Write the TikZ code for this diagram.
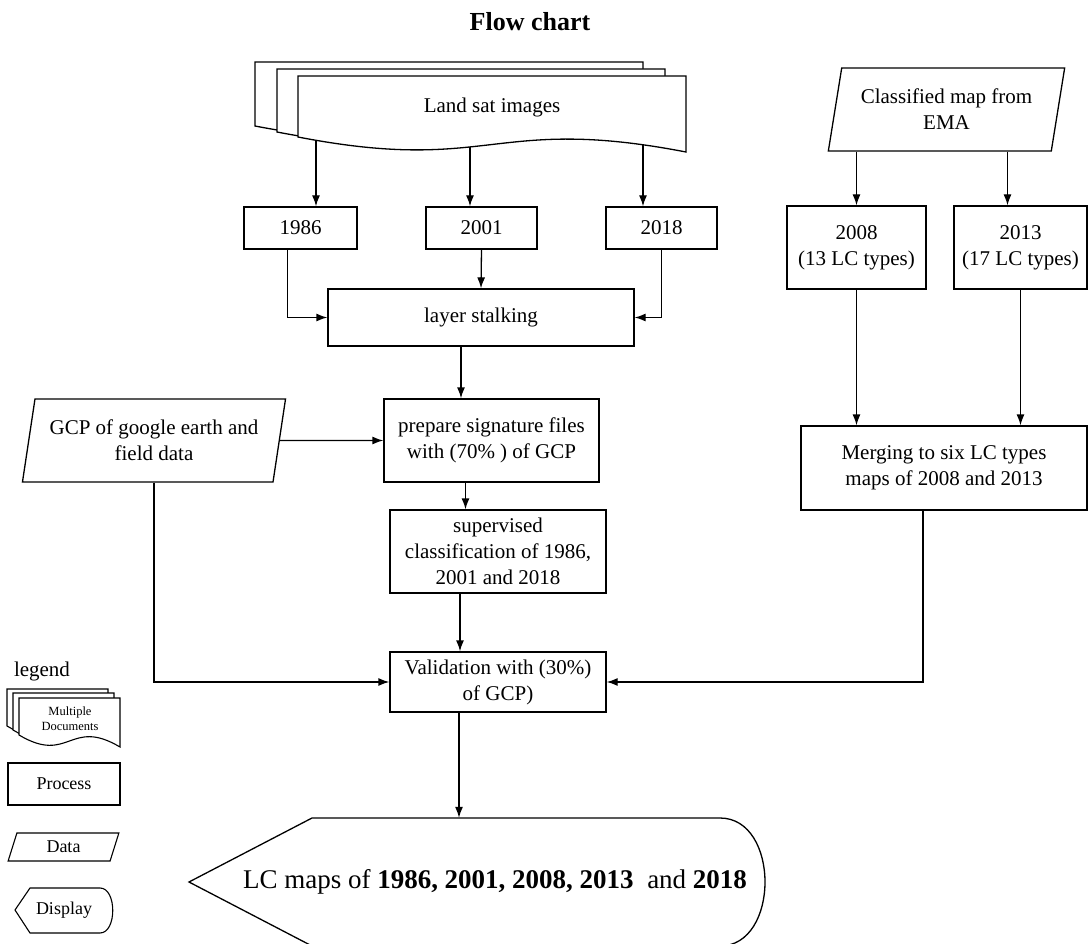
\documentclass[tikz,border=0pt]{standalone}
\usepackage{fontspec}
\setmainfont{Liberation Serif}
\usetikzlibrary{arrows.meta}
\usetikzlibrary{shapes.geometric}

% one sheet of a document symbol: x, y, width, left height, drop
\newcommand{\docsheet}[5]{%
  \draw[sheet] (#1,#2) -- ({#1+#3},#2) -- ({#1+#3},{#2+#4+#5})
    .. controls ({#1+#3/2},{#2+#4-1.5*#5}) and ({#1+#3/2},{#2+#4+2.5*#5}) .. (#1,{#2+#4}) -- cycle;}

\begin{document}
\begin{tikzpicture}[x=1pt,y=-1pt]
        \tikzset{box/.style = {shape=rectangle,draw,line width=1.3pt,align=center,inner sep=0pt,font=\fontsize{21}{26}\selectfont}}
        \tikzset{data/.style = {box,trapezium,trapezium left angle=75,trapezium right angle=105,trapezium stretches=true}}
        \tikzset{sheet/.style = {draw,fill=white,line width=1.3pt}}
        \tikzset{edge/.style = {->,> = {Latex[length=11pt,width=8pt]},line width=1.3pt}}
        \useasboundingbox (0,0) rectangle (1088,944);

        \node[font=\bfseries\fontsize{26}{30}\selectfont] (title) at (530,22) {Flow chart};

        % multiple documents
        \docsheet{255}{62}{388}{64}{15}
        \docsheet{277}{69}{388}{63}{15}
        \docsheet{298}{76}{388}{61}{15}
        \node[font=\fontsize{21}{26}\selectfont] (docs) at (492,107) {Land sat images};
        \coordinate (w1) at (316,140);
        \coordinate (w2) at (470,147);
        \coordinate (w3) at (643,145);

        \node[box,minimum width=113pt,minimum height=42pt] (y86) at (300.5,228) {1986};
        \node[box,minimum width=111pt,minimum height=42pt] (y01) at (481.5,228) {2001};
        \node[box,minimum width=111pt,minimum height=42pt] (y18) at (661.5,228) {2018};
        \node[box,minimum width=306pt,minimum height=57pt] (ls) at (481,317.5) {layer stalking};
        \node[data,minimum width=264pt,minimum height=83pt] (gcp) at (154,440.5) {GCP of google earth and\\field data};
        \node[box,minimum width=215pt,minimum height=83pt] (sig) at (491.5,440.5) {prepare signature files\\with (70\% ) of GCP};
        \node[box,minimum width=216pt,minimum height=83pt] (sup) at (498,551.5) {supervised\\classification of 1986,\\2001 and 2018};
        \node[box,minimum width=216pt,minimum height=60pt] (val) at (498,682) {Validation with (30\%)\\of GCP)};

        \node[data,minimum width=237pt,minimum height=83pt] (cls) at (946.5,109.5) {Classified map from\\EMA};
        \node[box,minimum width=139pt,minimum height=83pt] (b08) at (856.5,247.5) {2008\\(13 LC types)};
        \node[box,minimum width=133pt,minimum height=83pt] (b13) at (1020.5,247.5) {2013\\(17 LC types)};
        \node[box,minimum width=286pt,minimum height=84pt] (mrg) at (944,468) {Merging to six LC types\\maps of 2008 and 2013};

        % display
        \draw[sheet] (189,882) -- (312,818) -- (720,818) .. controls (780,818) and (780,946) .. (720,946) -- (312,946) -- cycle;
        \node[minimum height=128pt,inner sep=0pt,font=\fontsize{27}{32}\selectfont] (out) at (495,882) {LC maps of \textbf{1986, 2001, 2008, 2013}\ \ and \textbf{2018}};

        % legend
        \node[font=\fontsize{21}{26}\selectfont] (leg) at (42,671) {legend};
        \tikzset{sheet/.style = {draw,fill=white,line width=1.1pt}}
        \docsheet{7}{689}{101}{37}{12}
        \docsheet{13}{693}{101}{37}{12}
        \docsheet{19}{698}{101}{37}{12}
        \node[font=\fontsize{12.5}{15}\selectfont,align=center] (lmd) at (70,719) {Multiple\\Documents};
        \node[box,line width=1.1pt,minimum width=112pt,minimum height=42pt,font=\fontsize{18}{22}\selectfont] (lproc) at (64,784) {Process};
        \node[data,line width=1.1pt,minimum width=111pt,minimum height=28pt,font=\fontsize{18}{22}\selectfont] (ldata) at (63.5,847) {Data};
        \draw[sheet] (15,910) -- (30,888) -- (100,888) .. controls (117,888) and (117,933) .. (100,933) -- (30,933) -- cycle;
        \node[font=\fontsize{18}{22}\selectfont] (ldisp) at (64,910) {Display};

        \draw[edge] (w1) -- (w1 |- y86.north);
        \draw[edge] (w2) -- (w2 |- y01.north);
        \draw[edge] (w3) -- (w3 |- y18.north);
        \draw[edge] ([xshift=-13pt]y86.south) |- (ls.west);
        \draw[edge] (y01.south) -- (ls.north);
        \draw[edge] (y18.south) |- (ls.east);
        \draw[edge] ([xshift=-20pt]ls.south) -- ([xshift=-20pt]ls.south |- sig.north);
        \draw[edge] (gcp.east) -- (sig.west);
        \draw[edge] ([xshift=-26pt]sig.south) -- ([xshift=-26pt]sig.south |- sup.north);
        \draw[edge] ([xshift=-38pt]sup.south) -- ([xshift=-38pt]sup.south |- val.north);
        \draw[edge] (gcp.south) |- (val.west);
        \draw[edge] (b08.north |- cls.south) -- (b08.north);
        \draw[edge] ([xshift=-13pt]b13.north |- cls.south) -- ([xshift=-13pt]b13.north);
        \draw[edge] (b08.south) -- (b08.south |- mrg.north);
        \draw[edge] (b13.south) -- (b13.south |- mrg.north);
        \draw[edge] ([xshift=-21pt]mrg.south) |- (val.east);
        \draw[edge] ([xshift=-39pt]val.south) -- ([xshift=-39pt]val.south |- out.north);
    \end{tikzpicture}
\end{document}
